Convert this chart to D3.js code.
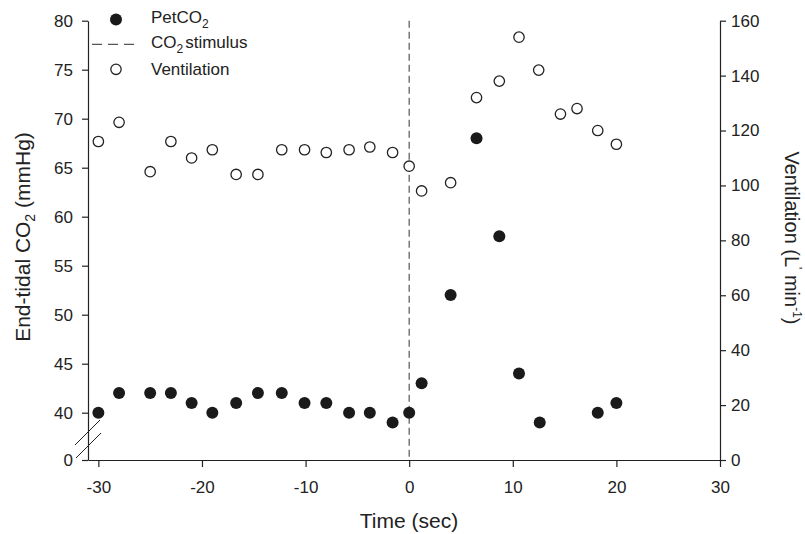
<!DOCTYPE html>
<html>
<head>
<meta charset="utf-8">
<script src="https://cdn.jsdelivr.net/npm/d3@7"></script>
<style>
  body { margin: 0; background: #fff; }
  text { font-family: "Liberation Sans", Arial, sans-serif; fill: #222; }
</style>
</head>
<body>
<div id="chart"></div>
<script>
// data
var petTime = [-30, -28, -25, -23, -21, -19, -16.7, -14.6, -12.3, -10.1, -8, -5.8, -3.8, -1.6, 0, 1.2, 4, 6.5, 8.7, 10.6, 12.6, 18.2, 20];
var petCO2  = [40, 42, 42, 42, 41, 40, 41, 42, 42, 41, 41, 40, 40, 39, 40, 43, 52, 68, 58, 44, 39, 40, 41];

var ventTime = [-30, -28, -25, -23, -21, -19, -16.7, -14.6, -12.3, -10.1, -8, -5.8, -3.8, -1.6, 0, 1.2, 4, 6.5, 8.7, 10.6, 12.5, 14.6, 16.2, 18.2, 20];
var ventilation = [116, 123, 105, 116, 110, 113, 104, 104, 113, 113, 112, 113, 114, 112, 107, 98, 101, 132, 138, 154, 142, 126, 128, 120, 115];

var stimulusTime = 0;
var xTicks = [-30, -20, -10, 0, 10, 20, 30];
var leftTicks = [0, 40, 45, 50, 55, 60, 65, 70, 75, 80];
var rightTicks = [0, 20, 40, 60, 80, 100, 120, 140, 160];

var W = 805, H = 534;
var svg = d3.select('#chart').append('svg')
    .attr('width', W)
    .attr('height', H);

var yTop = 20.7, yBottom = 460;
var x = d3.scaleLinear().domain([-31, 30]).range([88, 720]);
// left axis has a break: 0 sits at the bottom, 36..80 is linear
var yLin = d3.scaleLinear().domain([40, 80]).range([412.7, yTop]);
var yL = d3.scaleLinear().domain([0, 36, 80]).range([yBottom, yLin(36), yTop]);
var yR = d3.scaleLinear().domain([0, 160]).range([yBottom, yTop]);
var fmt = function (d) { return String(d); };

function styleAxis(g) {
    g.selectAll('path, line').attr('stroke', '#222').attr('stroke-width', 1.2);
    g.selectAll('text').attr('font-size', 17).attr('fill', '#222')
        .attr('font-family', '"Liberation Sans", Arial, sans-serif');
}

// bottom axis
var gx = svg.append('g')
    .attr('transform', 'translate(0,' + yBottom + ')')
    .call(d3.axisBottom(x).tickValues(xTicks).tickFormat(fmt).tickSize(7).tickSizeOuter(0).tickPadding(14));
styleAxis(gx);

// left axis
var gl = svg.append('g')
    .attr('transform', 'translate(88,0)')
    .call(d3.axisLeft(yL).tickValues(leftTicks).tickFormat(fmt).tickSize(6).tickSizeOuter(0).tickPadding(9));
styleAxis(gl);

// right axis
var gr = svg.append('g')
    .attr('transform', 'translate(720,0)')
    .call(d3.axisRight(yR).tickValues(rightTicks).tickFormat(fmt).tickSize(6).tickSizeOuter(0).tickPadding(5));
styleAxis(gr);

// axis break marks
svg.append('line').attr('x1', 75).attr('y1', 445).attr('x2', 100).attr('y2', 420)
    .attr('stroke', '#222').attr('stroke-width', 1);
svg.append('line').attr('x1', 76).attr('y1', 458).attr('x2', 101).attr('y2', 433)
    .attr('stroke', '#222').attr('stroke-width', 1);

// stimulus line
svg.append('line')
    .attr('x1', x(stimulusTime)).attr('x2', x(stimulusTime))
    .attr('y1', yTop).attr('y2', yBottom)
    .attr('stroke', '#555').attr('stroke-width', 1.2)
    .attr('stroke-dasharray', '7,4');

// ventilation points (open)
svg.selectAll('circle.vent')
    .data(ventTime)
    .enter()
    .append('circle')
    .attr('class', 'vent')
    .attr('cx', function (d) { return x(d); })
    .attr('cy', function (d, i) { return yR(ventilation[i]); })
    .attr('r', 5.2)
    .attr('fill', '#fff')
    .attr('stroke', '#222')
    .attr('stroke-width', 1.3);

// PetCO2 points (filled)
svg.selectAll('circle.pet')
    .data(petTime)
    .enter()
    .append('circle')
    .attr('class', 'pet')
    .attr('cx', function (d) { return x(d); })
    .attr('cy', function (d, i) { return yL(petCO2[i]); })
    .attr('r', 6)
    .attr('fill', '#1a1a1a');

// legend
var lg = svg.append('g');
lg.append('circle').attr('cx', 116).attr('cy', 19.5).attr('r', 6).attr('fill', '#1a1a1a');
var t1 = lg.append('text').attr('x', 151).attr('y', 22.7).attr('font-size', 17);
t1.append('tspan').text('PetCO');
t1.append('tspan').attr('font-size', 12).attr('dy', 5).text('2');

lg.append('line').attr('x1', 92).attr('x2', 136).attr('y1', 44.3).attr('y2', 44.3)
    .attr('stroke', '#555').attr('stroke-width', 1.2).attr('stroke-dasharray', '10,6');
var t2 = lg.append('text').attr('x', 151).attr('y', 48.3).attr('font-size', 17);
t2.append('tspan').text('CO');
t2.append('tspan').attr('font-size', 12).attr('dy', 5).text('2');
t2.append('tspan').attr('dy', -5).attr('dx', 2).text('stimulus');

lg.append('circle').attr('cx', 116).attr('cy', 69.3).attr('r', 5.2)
    .attr('fill', '#fff').attr('stroke', '#222').attr('stroke-width', 1.3);
lg.append('text').attr('x', 151).attr('y', 75).attr('font-size', 17).text('Ventilation');

// axis titles
svg.append('text')
    .attr('x', 409).attr('y', 528)
    .attr('text-anchor', 'middle').attr('font-size', 21)
    .text('Time (sec)');

var lt = svg.append('text')
    .attr('transform', 'translate(29.5,237) rotate(-90)')
    .attr('text-anchor', 'middle').attr('font-size', 21);
lt.append('tspan').text('End-tidal CO');
lt.append('tspan').attr('font-size', 14).attr('dy', 5).text('2');
lt.append('tspan').attr('dy', -5).text(' (mmHg)');

var rt = svg.append('text')
    .attr('transform', 'translate(785,238) rotate(90)')
    .attr('text-anchor', 'middle').attr('font-size', 20);
rt.append('tspan').text('Ventilation (L');
rt.append('tspan').attr('font-size', 12).attr('dy', -8).text("'");
rt.append('tspan').attr('dy', 8).text(' min');
rt.append('tspan').attr('font-size', 12).attr('dy', -8).text('-1');
rt.append('tspan').attr('dy', 8).text(')');
</script>
</body>
</html>
